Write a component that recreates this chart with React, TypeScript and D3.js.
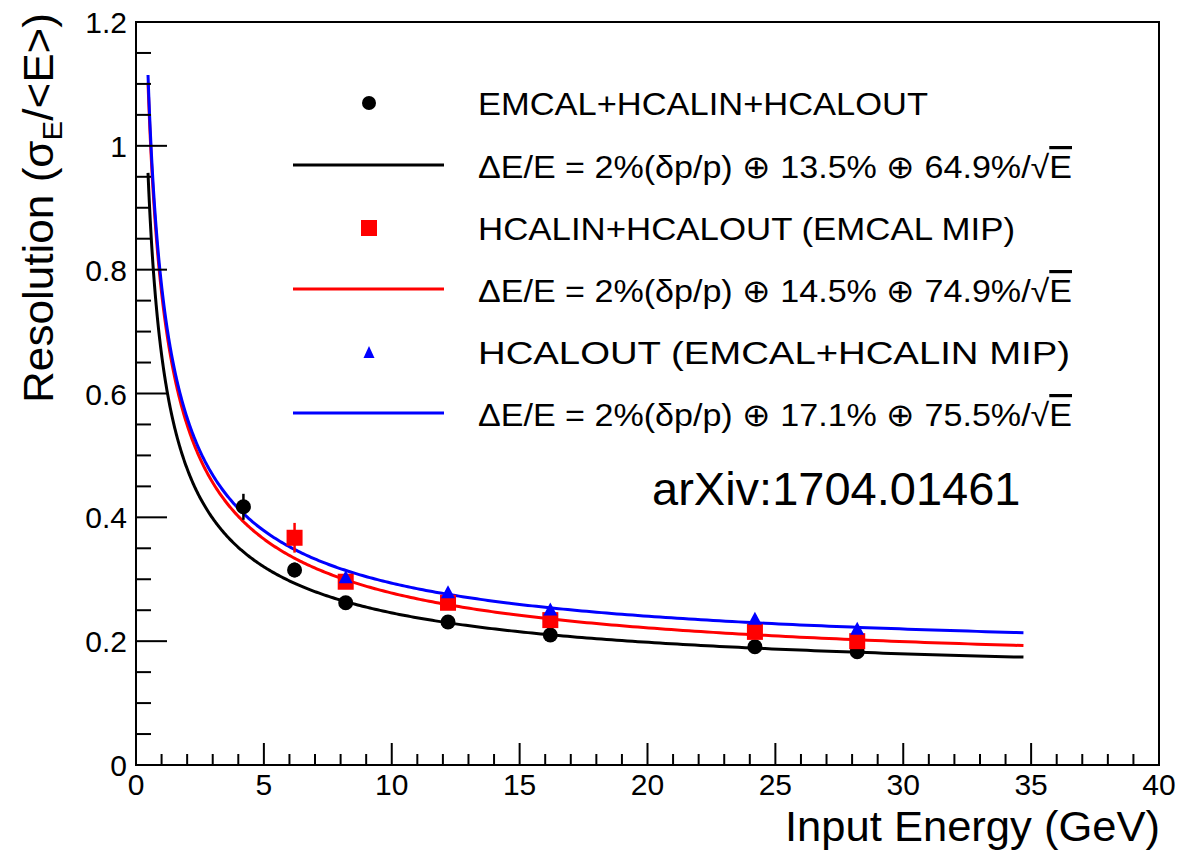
import React from 'react';
import * as d3 from 'd3';

const W = 1181;
const H = 852;

// Data points
const allEnergies = [4.2, 6.2, 8.2, 12.2, 16.2, 24.2, 28.2];
const allValues = [0.417, 0.315, 0.262, 0.231, 0.21, 0.191, 0.183];
const allErrors = [0.021, 0.012, 0.006, 0.005, 0.004, 0.004, 0.004];

const hcalEnergies = [6.2, 8.2, 12.2, 16.2, 24.2, 28.2];
const hcalValues = [0.367, 0.296, 0.262, 0.234, 0.215, 0.2];
const hcalErrors = [0.024, 0.008, 0.006, 0.005, 0.005, 0.005];

const outEnergies = [8.2, 12.2, 16.2, 24.2, 28.2];
const outValues = [0.304, 0.28, 0.252, 0.237, 0.221];
const outErrors = [0.006, 0.005, 0.005, 0.005, 0.005];

// Fit parameters from legend: constant term, stochastic term
const fitConstant = [0.135, 0.145, 0.171];
const fitStochastic = [0.649, 0.749, 0.755];
const fitColors = ['#000000', '#ff0000', '#0000ff'];
const fitRange = [0.47, 34.7];

const yTicks = [0, 0.2, 0.4, 0.6, 0.8, 1, 1.2];
const yTickLabels = ['0', '0.2', '0.4', '0.6', '0.8', '1', '1.2'];
const xTicks = [0, 5, 10, 15, 20, 25, 30, 35, 40];

const legendLabels = [
  'EMCAL+HCALIN+HCALOUT',
  'HCALIN+HCALOUT (EMCAL MIP)',
  'HCALOUT (EMCAL+HCALIN MIP)',
];
const fitLabelPrefix = 'ΔE/E = 2%(δp/p) ⊕ ';
const fitLabelParts = [
  ['13.5%', '64.9%'],
  ['14.5%', '74.9%'],
  ['17.1%', '75.5%'],
];

const FONT = '"Liberation Sans", Arial, Helvetica, sans-serif';

export default function App() {
  const x = d3.scaleLinear().domain([0, 40]).range([136, 1159]);
  const y = d3.scaleLinear().domain([0, 1.2]).range([765, 22]);

  const minorY = d3.range(0, 1.2001, 0.05);
  const minorX = d3.range(0, 40.001, 1);

  const line = d3
    .line<[number, number]>()
    .x((d) => x(d[0]))
    .y((d) => y(d[1]));

  const sampleE = d3.range(0, 401).map((i) => fitRange[0] * Math.pow(fitRange[1] / fitRange[0], i / 400));
  const fitPaths = fitConstant.map((c, k) =>
    line(sampleE.map((e) => [e, Math.sqrt(c * c + (fitStochastic[k] * fitStochastic[k]) / e)] as [number, number]))
  );

  const tri = (cx: number, cy: number, w: number, h: number) =>
    `M${cx - w / 2},${cy + h / 2}L${cx + w / 2},${cy + h / 2}L${cx},${cy - h / 2}Z`;

  const errBar = (e: number, v: number, err: number, color: string, key: string) => (
    <line key={key} x1={x(e)} x2={x(e)} y1={y(v + err)} y2={y(v - err)} stroke={color} strokeWidth={2.5} />
  );

  const legendX = 369;
  const lineX0 = 293;
  const lineX1 = 444;
  const textX = 478;
  const rows = [103, 165, 228, 289, 352, 413];
  const labelLens = [450, 537, 592];
  const fitLens = [594, 594, 594];

  return (
    <svg width={W} height={H} style={{ position: 'absolute', left: 0, top: 0, background: '#fff' }} fontFamily={FONT}>
      <rect x={0} y={0} width={W} height={H} fill="#fff" />

      {/* fit curves */}
      {fitPaths.map((p, k) => (
        <path key={'fit' + k} d={p || ''} fill="none" stroke={fitColors[k]} strokeWidth={3} />
      ))}

      {/* black data */}
      {allEnergies.map((e, i) => errBar(e, allValues[i], allErrors[i], '#000', 'eb' + i))}
      {allEnergies.map((e, i) => (
        <circle key={'c' + i} cx={x(e)} cy={y(allValues[i])} r={7.5} fill="#000" />
      ))}
      {/* red data */}
      {hcalEnergies.map((e, i) => errBar(e, hcalValues[i], hcalErrors[i], '#ff0000', 'er' + i))}
      {hcalEnergies.map((e, i) => (
        <rect key={'s' + i} x={x(e) - 8} y={y(hcalValues[i]) - 8} width={16} height={16} fill="#ff0000" />
      ))}
      {/* blue data */}
      {outEnergies.map((e, i) => errBar(e, outValues[i], outErrors[i], '#0000ff', 'eu' + i))}
      {outEnergies.map((e, i) => (
        <path key={'t' + i} d={tri(x(e), y(outValues[i]), 14, 13)} fill="#0000ff" />
      ))}

      {/* frame */}
      <rect x={136} y={22} width={1159 - 136} height={765 - 22} fill="none" stroke="#000" strokeWidth={2} />

      {/* y ticks */}
      {minorY.map((v, i) => (
        <line key={'my' + i} x1={136} x2={136 + (i % 4 === 0 ? 31 : 15)} y1={y(v)} y2={y(v)} stroke="#000" strokeWidth={2} />
      ))}
      {yTicks.map((v, i) => (
        <text key={'yl' + i} x={127} y={y(v) + 11} fontSize={30} textAnchor="end" fill="#000">
          {yTickLabels[i]}
        </text>
      ))}
      {/* x ticks */}
      {minorX.map((v, i) => (
        <line key={'mx' + i} x1={x(v)} x2={x(v)} y1={765} y2={765 - (i % 5 === 0 ? 22 : 11)} stroke="#000" strokeWidth={2} />
      ))}
      {xTicks.map((v, i) => (
        <text key={'xl' + i} x={x(v)} y={795} fontSize={30} textAnchor="middle" fill="#000">
          {String(v)}
        </text>
      ))}

      {/* axis titles */}
      <text x={1160} y={841} fontSize={42} textAnchor="end" fill="#000" textLength={375} lengthAdjust="spacingAndGlyphs">
        Input Energy (GeV)
      </text>
      <text transform="translate(53,13) rotate(-90)" fontSize={42} textAnchor="end" fill="#000" textLength={390} lengthAdjust="spacingAndGlyphs">
        Resolution (σ<tspan dy={9} fontSize={28}>E</tspan>
        <tspan dy={-9}>/&lt;E&gt;)</tspan>
      </text>

      {/* legend */}
      <circle cx={legendX} cy={rows[0]} r={7} fill="#000" />
      <rect x={legendX - 8} y={rows[2] - 8} width={16} height={16} fill="#ff0000" />
      <path d={tri(legendX, rows[4], 11, 12)} fill="#0000ff" />
      {[1, 3, 5].map((r, k) => (
        <line key={'ll' + k} x1={lineX0} x2={lineX1} y1={rows[r]} y2={rows[r]} stroke={fitColors[k]} strokeWidth={3} />
      ))}
      {legendLabels.map((lab, k) => (
        <text key={'lt' + k} x={textX} y={rows[k * 2] + 12} fontSize={32} fill="#000" textLength={labelLens[k]} lengthAdjust="spacingAndGlyphs">
          {lab}
        </text>
      ))}
      {fitLabelParts.map((p, k) => (
        <text key={'ft' + k} x={textX} y={rows[k * 2 + 1] + 13} fontSize={32} fill="#000" textLength={fitLens[k]} lengthAdjust="spacingAndGlyphs">
          {fitLabelPrefix + p[0] + ' ⊕ ' + p[1] + '/√'}
          <tspan style={{ textDecoration: 'overline' }}>E</tspan>
        </text>
      ))}

      <text x={652} y={505} fontSize={47} fill="#000">
        arXiv:1704.01461
      </text>
    </svg>
  );
}
